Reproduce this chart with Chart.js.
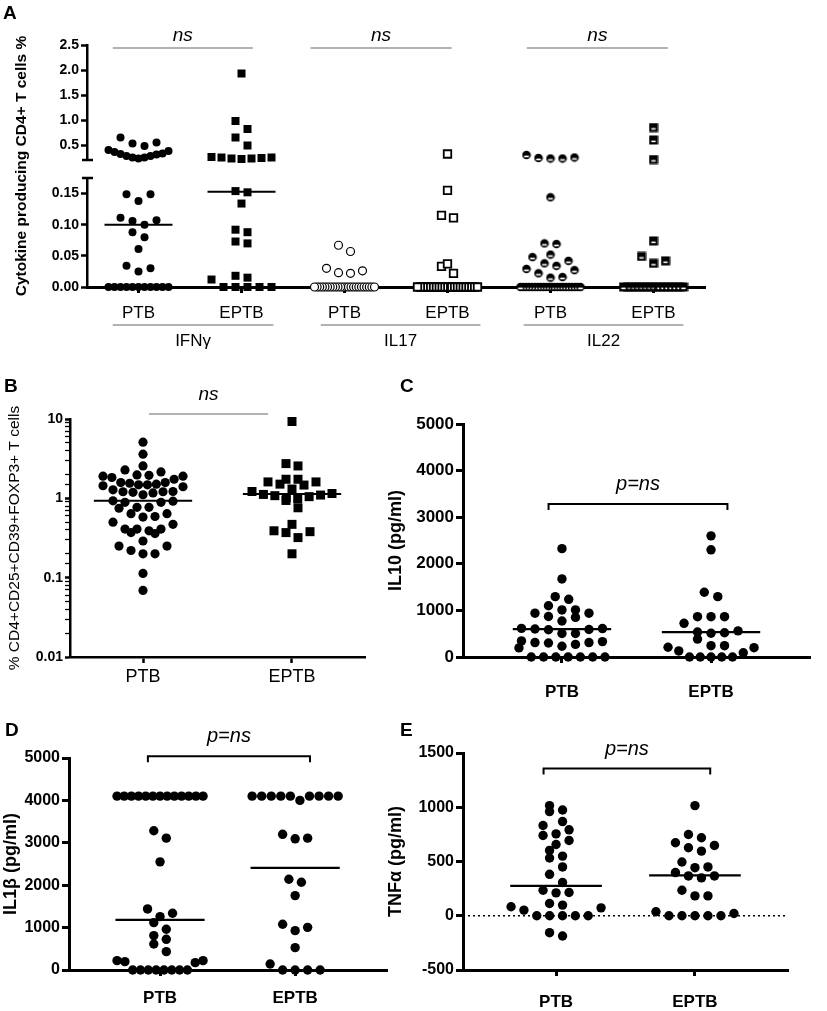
<!DOCTYPE html>
<html>
<head>
<meta charset="utf-8">
<title>Cytokine and regulatory T cell responses, PTB vs EPTB</title>
<script src="https://cdn.jsdelivr.net/npm/chart.js@4.4.1/dist/chart.umd.min.js"></script>
<style>
  body { margin: 0; background: #fff; }
  #fig { position: relative; width: 827px; height: 1011px; overflow: hidden; }
  #fig canvas { position: absolute; }
  .tag { position: absolute; font: bold 19px 'Liberation Sans', Arial, sans-serif; line-height: 19px; color: #000; }
</style>
</head>
<body>
<div id="fig">
  <canvas id="chartA2" width="827" height="360" style="left:0;top:0"></canvas>
  <canvas id="chartA1" width="827" height="175" style="left:0;top:0"></canvas>
  <canvas id="chartB" width="400" height="330" style="left:0;top:370px"></canvas>
  <canvas id="chartC" width="447" height="330" style="left:380px;top:370px"></canvas>
  <canvas id="chartD" width="400" height="311" style="left:0;top:700px"></canvas>
  <canvas id="chartE" width="447" height="311" style="left:380px;top:700px"></canvas>
  <div class="tag" style="left:3px;top:3px">A</div>
  <div class="tag" style="left:4px;top:376px">B</div>
  <div class="tag" style="left:400px;top:376px">C</div>
  <div class="tag" style="left:5px;top:720px">D</div>
  <div class="tag" style="left:400px;top:720px">E</div>
</div>
<script>
const FONT = "'Liberation Sans', Arial, sans-serif";
Chart.defaults.font.family = FONT;
Chart.defaults.color = '#000';

// ---- A: cytokine producing CD4+ T cells (%), broken y axis
const aTickLabels = ['PTB', 'EPTB', 'PTB', 'EPTB', 'PTB', 'EPTB'];
const aCytokines = ['IFNγ', 'IL17', 'IL22'];
const aUpperTicks = [0.5, 1.0, 1.5, 2.0, 2.5];
const aLowerTicks = [0, 0.05, 0.10, 0.15];
const aIfngPTB = [0.65, 0.53, 0.48, 0.55, 0.40, 0.36, 0.33, 0.31, 0.28, 0.25, 0.23, 0.25, 0.28, 0.32, 0.38,
  0.149, 0.149, 0.138, 0.107, 0.111, 0.106, 0.100, 0.088, 0.080, 0.061, 0.030, 0.025, 0.034,
  0, 0, 0, 0, 0, 0, 0, 0, 0, 0, 0];
const aIfngEPTB = [1.93, 0.98, 0.82, 0.65, 0.49, 0.25, 0.24, 0.23, 0.22, 0.23, 0.25, 0.26,
  0.152, 0.154, 0.134, 0.092, 0.088, 0.073, 0.070, 0.015, 0.012, 0.018, 0, 0, 0, 0, 0];
const aIl17PTB = [0.067, 0.057, 0.030, 0.023, 0.022, 0.026,
  0, 0, 0, 0, 0, 0, 0, 0, 0, 0, 0, 0, 0, 0, 0, 0, 0, 0, 0, 0, 0, 0, 0, 0];
const aIl17EPTB = [0.32, 0.155, 0.111, 0.115, 0.033, 0.022, 0.037,
  0, 0, 0, 0, 0, 0, 0, 0, 0, 0, 0, 0, 0, 0, 0, 0, 0, 0, 0, 0, 0, 0];
const aIl22PTB = [0.25, 0.23, 0.23, 0.24, 0.30, 0.144, 0.070, 0.069, 0.048, 0.052, 0.042, 0.034, 0.038,
  0.027, 0.029, 0.022, 0.016, 0.015,
  0, 0, 0, 0, 0, 0, 0, 0, 0, 0, 0, 0, 0, 0, 0, 0, 0, 0, 0, 0, 0, 0];
const aIl22EPTB = [0.85, 0.60, 0.21, 0.074, 0.042, 0.038, 0.049,
  0, 0, 0, 0, 0, 0, 0, 0, 0, 0, 0, 0, 0, 0, 0, 0];
const aMedians = [0.10, 0.153, 0, 0, 0, 0];

// ---- B: % CD4+CD25+CD39+FOXP3+ T cells (log axis)
const groups = ['PTB', 'EPTB'];
const bPTB = [5.1, 3.6, 2.56, 2.28, 2.15, 1.95, 1.9, 1.9, 1.97, 1.74, 1.83, 1.58, 1.51, 1.48, 1.40, 1.28,
  1.44, 1.48, 1.55, 1.58, 1.22, 1.19, 1.17, 1.21, 1.21, 1.11, 0.89, 0.93, 0.89, 0.92, 0.77, 0.75, 0.77,
  0.58, 0.64, 0.64, 0.59, 0.50, 0.47, 0.41, 0.39, 0.41, 0.36, 0.37, 0.41, 0.29, 0.25, 0.22, 0.25,
  0.20, 0.20, 0.113, 0.069];
const bEPTB = [9.3, 2.74, 2.56, 1.74, 1.74, 1.61, 1.61, 1.51, 1.47, 1.31, 1.22, 1.15, 1.12, 1.10, 1.08,
  1.05, 1.02, 0.99, 0.94, 0.76, 0.47, 0.39, 0.37, 0.38, 0.32, 0.20];
const bMedians = [0.93, 1.13];

// ---- C: IL10 (pg/ml)
const cTicks = [0, 1000, 2000, 3000, 4000, 5000];
const cPTB = [2325, 1675, 1295, 1238, 1100, 1010, 1010, 940, 940, 850, 870, 773, 610, 590, 600, 615, 585,
  505, 505, 300, 270, 345, 310, 310, 330, 195, 230, 0, 0, 0, 0, 0, 0, 0];
const cEPTB = [2600, 2300, 1390, 1295, 865, 865, 865, 723, 535, 510, 520, 560, 385, 243, 243, 200, 210,
  90, 130, 0, 0, 0, 0, 0];
const cMedians = [600, 535];

// ---- D: IL1β (pg/ml)
const dTicks = [0, 1000, 2000, 3000, 4000, 5000];
const dPTB = [4100, 4100, 4100, 4100, 4100, 4100, 4100, 4100, 4100, 4100, 4100, 4100, 4100,
  3283, 3110, 2551, 1440, 1260, 1338, 1118, 960, 811, 724, 614, 433, 220, 197, 173, 220,
  0, 0, 0, 0, 0, 0, 0, 0];
const dEPTB = [4100, 4100, 4100, 4100, 4100, 4000, 4100, 4100, 4100, 4100,
  3110, 3094, 3200, 2070, 2140, 1755, 1078, 1006, 928, 527, 141, 0, 0, 0, 0];
const dMedians = [1180, 2410];

// ---- E: TNFα (pg/ml)
const eTicks = [-500, 0, 500, 1000, 1500];
const ePTB = [1015, 960, 975, 832, 868, 740, 792, 755, 657, 694, 550, 532, 602, 450, 382, 306, 214, 211,
  235, 113, 83, 73, 98, 52, 0, 0, 0, 0, 0, -187, -156];
const eEPTB = [1015, 749, 719, 673, 627, 596, 648, 495, 443, 450, 367, 349, 367, 398, 235, 183, 183,
  37, 21, 0, 0, 0, 0, 0];
const eMedians = [275, 373];

const common = { responsive: false, animation: false, events: [],
  plugins: { legend: { display: false }, tooltip: { enabled: false } } };

// small custom markers used for IL22
function markerCanvas(size, draw) {
  const c = document.createElement('canvas');
  c.width = c.height = size;
  draw(c.getContext('2d'), size / 2);
  return c;
}
const halfDotImg = markerCanvas(10, (g, m) => {
  g.fillStyle = '#000'; g.beginPath(); g.arc(m, m, 4.3, 0, Math.PI * 2); g.fill();
  g.fillStyle = '#fff'; g.fillRect(m - 2.4, m + 0.6, 4.8, 1.7);
});
const barSquareImg = markerCanvas(10, (g, m) => {
  g.fillStyle = '#000'; g.fillRect(m - 4.5, m - 4.5, 9, 9);
  g.fillStyle = '#fff'; g.fillRect(m - 2.2, m + 0.6, 4.4, 1.6);
});

const dot = r => ({ pointStyle: 'circle', pointRadius: r, pointBackgroundColor: '#000', pointBorderColor: '#000', pointBorderWidth: 0 });
const square = side => ({ pointStyle: 'rect', pointRadius: side / Math.SQRT2, pointBackgroundColor: '#000', pointBorderColor: '#000', pointBorderWidth: 0 });
const aStyles = [
  dot(4), square(8),
  { pointStyle: 'circle', pointRadius: 4, pointBackgroundColor: '#fff', pointBorderColor: '#000', pointBorderWidth: 1.2 },
  { pointStyle: 'rect', pointRadius: 5.3, pointBackgroundColor: '#fff', pointBorderColor: '#000', pointBorderWidth: 1.8 },
  { pointStyle: halfDotImg, pointRadius: 5 },
  { pointStyle: barSquareImg, pointRadius: 5 }
];

function pointSet(style) {
  return Object.assign({ data: [], order: 1, clip: false, pointHoverRadius: style.pointRadius }, style);
}
function medianSet(k, m, w) {
  return { data: [{ x: k - 0.33, y: m }, { x: k + 0.33, y: m }], showLine: true, fill: false,
    borderColor: '#000', borderWidth: w || 2, pointRadius: 0, order: 2, clip: false };
}

function xAxis(labels, min, max, o) {
  return {
    type: 'linear', min, max, display: o.display !== false,
    afterBuildTicks: s => { s.ticks = labels.map((l, i) => ({ value: i })); },
    afterFit: s => { s.height = o.h; },
    ticks: { callback: v => labels[v], font: o.font, color: '#000', padding: o.pad, autoSkip: false, maxRotation: 0 },
    grid: { drawOnChartArea: false, tickLength: 6, tickColor: '#000', tickWidth: o.bw },
    border: { color: '#000', width: o.bw }
  };
}
function yAxis(o) {
  const ax = {
    type: o.type || 'linear', min: o.min, max: o.max,
    afterFit: s => { s.width = o.w; },
    ticks: { callback: o.fmt, font: o.font, color: '#000', padding: 2, autoSkip: false },
    grid: { drawOnChartArea: false, tickLength: o.tl || 6, tickColor: '#000', tickWidth: o.tw || o.bw },
    border: { color: '#000', width: o.bw },
    title: o.title ? { display: true, text: o.title, font: o.tfont, color: '#000', padding: { top: o.tpad, bottom: 0 } }
                   : { display: false }
  };
  if (o.ticks) ax.afterBuildTicks = s => { s.ticks = o.ticks.map(v => ({ value: v })); };
  return ax;
}

// GraphPad-like scatter: points binned into rows, lowest values in the middle of each row
function rowSwarm(values, toPx, rowH, gap, maxW) {
  const pts = values.map((v, i) => ({ i, v, y: toPx(v) })).sort((a, b) => b.y - a.y);
  const offs = new Array(values.length).fill(0);
  let k = 0;
  while (k < pts.length) {
    const row = [pts[k]];
    let j = k + 1;
    while (j < pts.length && pts[k].y - pts[j].y < rowH) row.push(pts[j++]);
    k = j;
    const n = row.length;
    const s = n > 1 ? Math.min(gap, maxW / (n - 1)) : 0;
    const slots = [];
    for (let m = 0; m < n; m++) slots.push((m - (n - 1) / 2) * s);
    slots.sort((a, b) => Math.abs(a) - Math.abs(b) || b - a);
    row.sort((a, b) => a.v - b.v).forEach((p, m) => { offs[p.i] = slots[m]; });
  }
  return offs;
}
function layoutPoints(chart, sets, p) {
  const xs = chart.scales.x, ys = chart.scales.y;
  const unit = xs.getPixelForValue(1) - xs.getPixelForValue(0);
  sets.forEach((vals, k) => {
    const offs = rowSwarm(vals, v => ys.getPixelForValue(v), p.rowH, p.gap, p.maxW);
    chart.data.datasets[k].data = vals.map((v, i) => ({ x: k + offs[i] / unit, y: v }));
  });
  chart.update('none');
}

function txt(ctx, s, x, y, font, rot, base) {
  ctx.save();
  ctx.translate(x, y); ctx.rotate(rot || 0);
  ctx.font = font; ctx.fillStyle = '#000'; ctx.textAlign = 'center'; ctx.textBaseline = base || 'alphabetic';
  ctx.fillText(s, 0, 0);
  ctx.restore();
}
function hline(ctx, x0, x1, y, color, w) {
  ctx.save(); ctx.strokeStyle = color; ctx.lineWidth = w;
  ctx.beginPath(); ctx.moveTo(x0, y); ctx.lineTo(x1, y); ctx.stroke(); ctx.restore();
}
function bracket(chart, yv, label) {
  const { ctx, scales: { x, y } } = chart;
  const x0 = x.getPixelForValue(-0.09), x1 = x.getPixelForValue(1.11), yy = y.getPixelForValue(yv);
  ctx.save(); ctx.strokeStyle = '#000'; ctx.lineWidth = 2;
  ctx.beginPath(); ctx.moveTo(x0, yy + 6); ctx.lineTo(x0, yy); ctx.lineTo(x1, yy); ctx.lineTo(x1, yy + 6); ctx.stroke();
  ctx.restore();
  txt(ctx, label, (x0 + x1) / 2, yy - 14, 'italic 20px ' + FONT);
}

// ---------------- panel A
const A_BREAK = 0.19;
const aUpper = [aIfngPTB, aIfngEPTB, aIl17PTB, aIl17EPTB, aIl22PTB, aIl22EPTB].map(g => g.filter(v => v > A_BREAK));
const aLower = [aIfngPTB, aIfngEPTB, aIl17PTB, aIl17EPTB, aIl22PTB, aIl22EPTB].map(g => g.filter(v => v <= A_BREAK));
const aTickFont = { size: 14, weight: 'bold' };
const aSwarm = { rowH: 9, gap: 12, maxW: 60 };

const chartA1 = new Chart('chartA1', {
  type: 'scatter',
  data: { datasets: aUpper.map((g, k) => pointSet(aStyles[k])) },
  options: Object.assign({}, common, {
    layout: { padding: { left: 42, top: 45, right: 122, bottom: 15 } },
    scales: {
      x: xAxis(aTickLabels, -0.5, 5.5, { display: false, h: 0, bw: 3 }),
      y: yAxis({ min: 0.2, max: 2.5, ticks: aUpperTicks, fmt: v => v.toFixed(1), font: aTickFont, w: 45, bw: 2.5 })
    }
  }),
  plugins: [{
    id: 'aTop',
    afterDraw(chart) {
      const { ctx, chartArea: ca, scales: { x } } = chart;
      hline(ctx, ca.left - 5, ca.left + 6, ca.bottom, '#000', 2.5);
      [[-0.25, 1.11], [1.67, 3.04], [3.77, 5.14]].forEach(([x0, x1]) => {
        const px0 = x.getPixelForValue(x0), px1 = x.getPixelForValue(x1);
        hline(ctx, px0, px1, ca.top + 3, '#999', 1.5);
        txt(ctx, 'ns', (px0 + px1) / 2, ca.top - 4, 'italic 19px ' + FONT);
      });
    }
  }]
});

const chartA2 = new Chart('chartA2', {
  type: 'scatter',
  data: { datasets: aLower.map((g, k) => pointSet(aStyles[k])).concat(aMedians.map((m, k) => medianSet(k, m))) },
  options: Object.assign({}, common, {
    layout: { padding: { left: 42, top: 178, right: 122, bottom: 28 } },
    scales: {
      x: xAxis(aTickLabels, -0.5, 5.5, { h: 45, font: { size: 17 }, pad: 10, bw: 3 }),
      y: yAxis({ min: 0, max: 0.175, ticks: aLowerTicks, fmt: v => v.toFixed(2), font: aTickFont, w: 45, bw: 2.5 })
    }
  }),
  plugins: [{
    id: 'aBottom',
    afterDraw(chart) {
      const { ctx, chartArea: ca, scales: { x } } = chart;
      hline(ctx, ca.left - 5, ca.left + 6, ca.top, '#000', 2.5);
      txt(ctx, 'Cytokine producing CD4+ T cells %', 22, 166, 'bold 15.5px ' + FONT, -Math.PI / 2, 'middle');
      [[-0.25, 1.31], [1.77, 3.32], [3.74, 5.29]].forEach(([x0, x1], i) => {
        const px0 = x.getPixelForValue(x0), px1 = x.getPixelForValue(x1);
        hline(ctx, px0, px1, ca.bottom + 38, '#999', 1.5);
        txt(ctx, aCytokines[i], (px0 + px1) / 2, ca.bottom + 59, '17px ' + FONT);
      });
    }
  }]
});
layoutPoints(chartA1, aUpper, aSwarm);
layoutPoints(chartA2, aLower, aSwarm);

// ---------------- panel B
const isDecade = v => v > 0 && Math.abs(Math.log10(v) - Math.round(Math.log10(v))) < 1e-6;
const chartB = new Chart('chartB', {
  type: 'scatter',
  data: { datasets: [pointSet(dot(4.6)), pointSet(square(9))].concat(bMedians.map((m, k) => medianSet(k, m))) },
  options: Object.assign({}, common, {
    layout: { padding: { left: 0, top: 49, right: 35, bottom: 0 } },
    scales: {
      x: xAxis(groups, -0.49, 1.49, { h: 43, font: { size: 18 }, pad: 3, bw: 2.5 }),
      y: yAxis({ type: 'logarithmic', min: 0.01, max: 10, w: 70, bw: 2.5, tl: 5,
        tw: c => (c.tick && isDecade(c.tick.value)) ? 2.5 : 1.3,
        fmt: v => isDecade(v) ? String(+v.toPrecision(1)) : '',
        font: { size: 14, weight: 'bold' },
        title: '% CD4+CD25+CD39+FOXP3+ T cells', tfont: { size: 15.5 }, tpad: 5 })
    }
  }),
  plugins: [{
    id: 'bNs',
    afterDraw(chart) {
      const { ctx, chartArea: ca, scales: { x } } = chart;
      const px0 = x.getPixelForValue(0.04), px1 = x.getPixelForValue(0.84);
      hline(ctx, px0, px1, ca.top - 5, '#999', 1.5);
      txt(ctx, 'ns', (px0 + px1) / 2, ca.top - 19, 'italic 19px ' + FONT);
    }
  }]
});
layoutPoints(chartB, [bPTB, bEPTB], { rowH: 9, gap: 12, maxW: 80 });

// ---------------- panels C, D, E
function cytokineChart(id, o) {
  const sets = [pointSet(dot(4.7)), pointSet(dot(4.7))].concat(o.medians.map((m, k) => medianSet(k, m, 2.2)));
  if (o.zeroLine) {
    sets.push({ data: [{ x: -0.67, y: 0 }, { x: 1.67, y: 0 }], showLine: true, fill: false, borderColor: '#000',
      borderWidth: 1.6, borderDash: [2, 3], pointRadius: 0, order: 3 });
  }
  const chart = new Chart(id, {
    type: 'scatter',
    data: { datasets: sets },
    options: Object.assign({}, common, {
      layout: { padding: { left: 0, top: o.top, right: o.right, bottom: 0 } },
      scales: {
        x: xAxis(groups, o.xmin, o.xmax, { h: o.xh, font: { size: 17, weight: 'bold' }, pad: o.xpad, bw: 3 }),
        y: yAxis({ min: o.ticks[0], max: o.ticks[o.ticks.length - 1], ticks: o.ticks, fmt: v => String(v),
          font: { size: o.tickSize, weight: 'bold' }, w: o.w, bw: 3, tl: 7,
          title: o.title, tfont: { size: 18, weight: 'bold' }, tpad: o.tpad })
      }
    }),
    plugins: [{ id: 'bracket', afterDraw(c) { bracket(c, o.bracketAt, 'p=ns'); } }]
  });
  layoutPoints(chart, o.data, { rowH: 10, gap: o.gap, maxW: o.maxW });
  return chart;
}

cytokineChart('chartC', { data: [cPTB, cEPTB], medians: cMedians, ticks: cTicks, title: 'IL10 (pg/ml)',
  top: 54, right: 17, w: 83, tpad: 5, xmin: -0.664, xmax: 1.664, xh: 43, xpad: 19, tickSize: 17,
  bracketAt: 3283, gap: 13.5, maxW: 86 });
cytokineChart('chartD', { data: [dPTB, dEPTB], medians: dMedians, ticks: dTicks, title: 'IL1β (pg/ml)',
  top: 58, right: 13, w: 69, tpad: 0, xmin: -0.674, xmax: 1.68, xh: 41, xpad: 12, tickSize: 16,
  bracketAt: 5040, gap: 12.5, maxW: 86 });
cytokineChart('chartE', { data: [ePTB, eEPTB], medians: eMedians, ticks: eTicks, title: 'TNFα (pg/ml)',
  top: 53, right: 39, w: 83, tpad: 5, xmin: -0.67, xmax: 1.67, xh: 41, xpad: 16, tickSize: 16,
  bracketAt: 1357, gap: 13, maxW: 90, zeroLine: true });
</script>
</body>
</html>
